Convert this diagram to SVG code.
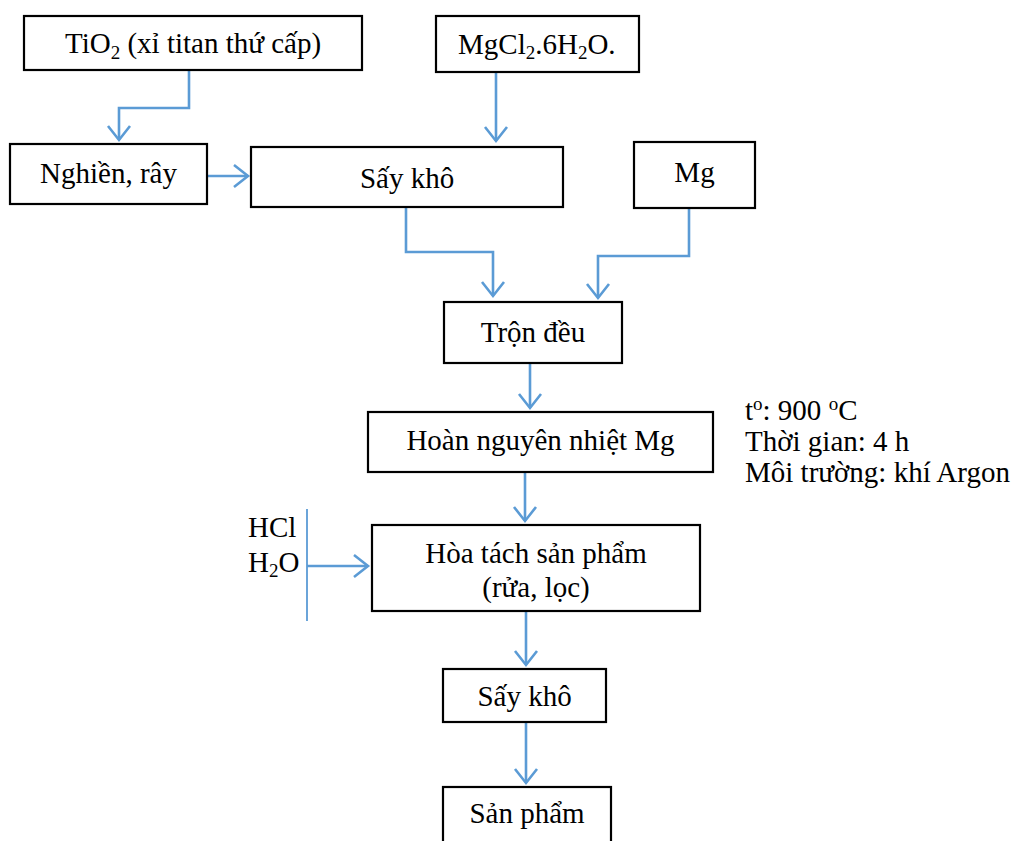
<svg xmlns="http://www.w3.org/2000/svg" width="1016" height="841" viewBox="0 0 1016 841">
<defs>
<marker id="ah" markerUnits="userSpaceOnUse" markerWidth="20" markerHeight="26" viewBox="-2 -2 20 26" refX="15" refY="11" orient="auto">
<path d="M1,0 L15,11 L1,22" fill="none" stroke="#5B9BD5" stroke-width="2.6"/>
</marker>
</defs>
<style>
.box{fill:#fff;stroke:#000;stroke-width:2.2}
.t{font-family:"Liberation Serif","Times New Roman",serif;font-size:29px;fill:#000}
.m{text-anchor:middle}
.c{fill:none;stroke:#5B9BD5;stroke-width:2.6}
.thin{fill:none;stroke:#5B9BD5;stroke-width:1.8}
.sub{font-size:19px}
</style>
<rect width="1016" height="841" fill="#fff"/>
<g id="connectors">
<polyline class="c" points="189,70 189,108 119,108 119,140" marker-end="url(#ah)"/>
<polyline class="c" points="496,72 496,141" marker-end="url(#ah)"/>
<polyline class="c" points="207,176 248,176" marker-end="url(#ah)"/>
<polyline class="c" points="406,207 406,252 493,252 493,296" marker-end="url(#ah)"/>
<polyline class="c" points="689,208 689,256 598,256 598,298" marker-end="url(#ah)"/>
<polyline class="c" points="530,363 530,408" marker-end="url(#ah)"/>
<polyline class="c" points="525,472 525,521" marker-end="url(#ah)"/>
<line class="thin" x1="307" y1="509" x2="307" y2="621"/>
<polyline class="c" points="307,566 368,566" marker-end="url(#ah)"/>
<polyline class="c" points="526,611 526,665" marker-end="url(#ah)"/>
<polyline class="c" points="526,722 526,783" marker-end="url(#ah)"/>
</g>
<g id="tio2">
<rect class="box" x="24" y="16" width="338" height="54"/>
<text class="t" x="65" y="53">TiO<tspan class="sub" dy="6">2</tspan><tspan dy="-6"> (xỉ titan thứ cấp)</tspan></text>
</g>
<g id="mgcl2">
<rect class="box" x="436" y="16" width="203" height="56"/>
<text class="t" x="458" y="54">MgCl<tspan class="sub" dy="5">2</tspan><tspan dy="-5">.6H</tspan><tspan class="sub" dy="5">2</tspan><tspan dy="-5">O.</tspan></text>
</g>
<g id="nghien">
<rect class="box" x="10" y="144" width="197" height="60"/>
<text class="t m" x="108.5" y="183">Nghiền, rây</text>
</g>
<g id="saykho1">
<rect class="box" x="251" y="147" width="312" height="60"/>
<text class="t m" x="407" y="188">Sấy khô</text>
</g>
<g id="mg">
<rect class="box" x="634" y="142" width="121" height="66"/>
<text class="t m" x="694.5" y="182">Mg</text>
</g>
<g id="tron">
<rect class="box" x="444" y="302" width="178" height="61"/>
<text class="t m" x="533" y="342">Trộn đều</text>
</g>
<g id="hoannguyen">
<rect class="box" x="368" y="412" width="345" height="60"/>
<text class="t m" x="540.5" y="450">Hoàn nguyên nhiệt Mg</text>
</g>
<g id="dieukien">
<text class="t" x="745" y="420">t<tspan class="sub" dy="-10">o</tspan><tspan dy="10">: 900 </tspan><tspan class="sub" dy="-10">o</tspan><tspan dy="10">C</tspan></text>
<text class="t" x="745" y="451">Thời gian: 4 h</text>
<text class="t" x="745" y="482">Môi trường: khí Argon</text>
</g>
<g id="hoatach">
<rect class="box" x="372" y="525" width="328" height="86"/>
<text class="t m" x="536" y="563">Hòa tách sản phẩm</text>
<text class="t m" x="536" y="597">(rửa, lọc)</text>
</g>
<g id="hcl">
<text class="t" x="248" y="537">HCl</text>
<text class="t" x="248" y="572">H<tspan class="sub" dy="5">2</tspan><tspan dy="-5">O</tspan></text>
</g>
<g id="saykho2">
<rect class="box" x="443" y="669" width="163" height="53"/>
<text class="t m" x="524.5" y="706">Sấy khô</text>
</g>
<g id="sanpham">
<rect class="box" x="443" y="787" width="168" height="70"/>
<text class="t m" x="527" y="823">Sản phẩm</text>
</g>
</svg>
